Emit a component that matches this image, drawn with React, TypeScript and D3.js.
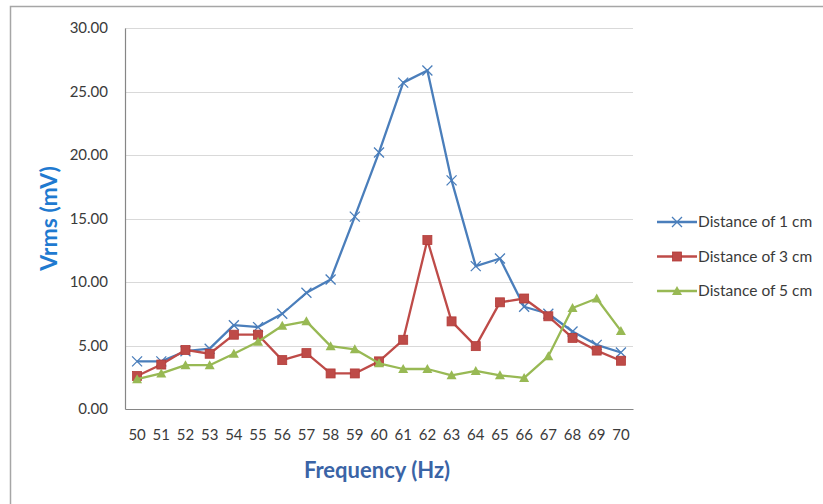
import { useRef, useEffect } from 'react';
import * as d3 from 'd3';

const frequencies = [50, 51, 52, 53, 54, 55, 56, 57, 58, 59, 60, 61, 62, 63, 64, 65, 66, 67, 68, 69, 70];
const dist1cm = [3.75, 3.75, 4.55, 4.75, 6.6, 6.45, 7.5, 9.15, 10.2, 15.15, 20.2, 25.7, 26.65, 18.0, 11.25, 11.85, 8.05, 7.5, 6.1, 5.05, 4.45];
const dist3cm = [2.6, 3.5, 4.65, 4.35, 5.85, 5.85, 3.85, 4.4, 2.8, 2.8, 3.75, 5.45, 13.3, 6.9, 4.95, 8.4, 8.7, 7.3, 5.6, 4.6, 3.8];
const dist5cm = [2.35, 2.8, 3.45, 3.45, 4.35, 5.3, 6.55, 6.9, 4.95, 4.7, 3.6, 3.15, 3.15, 2.65, 3.0, 2.65, 2.45, 4.15, 7.95, 8.7, 6.15];
const yTicks = [0, 5, 10, 15, 20, 25, 30];

const series = [
  { name: 'Distance of 1 cm', values: dist1cm, color: '#4a7ebb', marker: 'x' },
  { name: 'Distance of 3 cm', values: dist3cm, color: '#be4b48', marker: 'square' },
  { name: 'Distance of 5 cm', values: dist5cm, color: '#98b954', marker: 'triangle' },
];

const FONT = 'Lato, "Open Sans", sans-serif';

export default function App() {
  const svgRef = useRef<SVGSVGElement>(null);

  useEffect(() => {
    if (!svgRef.current) return;
    const svg = d3.select(svgRef.current);
    svg.selectAll('*').remove();

    const width = 823;
    const height = 504;
    const margin = { top: 28, right: 190, bottom: 95, left: 125 };

    // chart frame
    svg.append('rect').attr('width', width).attr('height', height).attr('fill', '#fff');
    svg.append('rect')
      .attr('x', 10.5).attr('y', 6.5)
      .attr('width', 830).attr('height', 520)
      .attr('fill', 'none').attr('stroke', '#a6a6a6').attr('stroke-width', 1.5);

    const x = d3.scaleBand<number>()
      .domain(frequencies)
      .range([margin.left, width - margin.right]);
    const y = d3.scaleLinear().domain([0, 30]).range([height - margin.bottom, margin.top]);
    const cx = (f: number) => (x(f) ?? 0) + x.bandwidth() / 2;

    // gridlines
    svg.append('g')
      .selectAll('line')
      .data(yTicks.filter(t => t > 0))
      .join('line')
      .attr('x1', margin.left).attr('x2', width - margin.right)
      .attr('y1', d => Math.round(y(d)) + 0.5).attr('y2', d => Math.round(y(d)) + 0.5)
      .attr('stroke', '#d9d9d9').attr('stroke-width', 1.2);

    // y axis
    const yAxis = svg.append('g')
      .attr('transform', `translate(${margin.left},0)`)
      .call(d3.axisLeft(y).tickValues(yTicks).tickSize(0).tickPadding(17).tickFormat(d => (d as number).toFixed(2)));
    yAxis.select('.domain').attr('stroke', '#868686').attr('stroke-width', 1.2);
    yAxis.selectAll('text').attr('font-family', FONT).attr('font-size', 15).attr('fill', '#3a3a3a');

    // x axis
    const xAxis = svg.append('g')
      .attr('transform', `translate(0,${height - margin.bottom})`)
      .call(d3.axisBottom(x).tickSize(0).tickPadding(20));
    xAxis.select('.domain').attr('stroke', '#868686').attr('stroke-width', 1.2);
    xAxis.selectAll('text').attr('font-family', FONT).attr('font-size', 15).attr('fill', '#3a3a3a');

    // axis titles
    svg.append('text')
      .attr('transform', `translate(57,${(margin.top + height - margin.bottom) / 2}) rotate(-90)`)
      .attr('text-anchor', 'middle')
      .attr('font-family', FONT).attr('font-size', 23).attr('font-weight', 'bold')
      .attr('fill', '#1f7ad0')
      .text('Vrms (mV)');
    svg.append('text')
      .attr('x', 377).attr('y', 478)
      .attr('text-anchor', 'middle')
      .attr('font-family', FONT).attr('font-size', 22).attr('font-weight', 'bold')
      .attr('fill', '#3a64a6')
      .text('Frequency (Hz)');

    const drawMarker = (g: d3.Selection<SVGGElement, unknown, null, undefined>, kind: string, px: number, py: number, color: string) => {
      if (kind === 'x') {
        g.append('path')
          .attr('d', `M${px - 5},${py - 5}L${px + 5},${py + 5}M${px - 5},${py + 5}L${px + 5},${py - 5}`)
          .attr('stroke', color).attr('stroke-width', 1.3).attr('fill', 'none');
      } else if (kind === 'square') {
        g.append('rect')
          .attr('x', px - 4.5).attr('y', py - 4.5).attr('width', 9).attr('height', 9)
          .attr('fill', color).attr('stroke', '#b23b38').attr('stroke-width', 0.8);
      } else {
        g.append('path')
          .attr('d', `M${px},${py - 5}L${px + 5},${py + 4}L${px - 5},${py + 4}Z`)
          .attr('fill', color);
      }
    };

    // series
    series.forEach(s => {
      const line = d3.line<number>()
        .x((_, i) => cx(frequencies[i]))
        .y(d => y(d));
      svg.append('path')
        .datum(s.values)
        .attr('d', line)
        .attr('fill', 'none')
        .attr('stroke', s.color)
        .attr('stroke-width', 2.3)
        .attr('stroke-linejoin', 'round');
      const mg = svg.append('g');
      s.values.forEach((v, i) => drawMarker(mg, s.marker, cx(frequencies[i]), y(v), s.color));
    });

    // legend
    const legend = svg.append('g').attr('transform', 'translate(657,222)');
    series.forEach((s, i) => {
      const ly = i * 34.5;
      legend.append('line')
        .attr('x1', 0).attr('x2', 40).attr('y1', ly).attr('y2', ly)
        .attr('stroke', s.color).attr('stroke-width', 2.3);
      const mg = legend.append('g');
      drawMarker(mg, s.marker, 20, ly, s.color);
      legend.append('text')
        .attr('x', 41).attr('y', ly + 5)
        .attr('font-family', FONT).attr('font-size', 15.5).attr('fill', '#3a3a3a')
        .text(s.name);
    });
  }, []);

  return (
    <svg ref={svgRef} width={823} height={504} style={{ position: 'fixed', left: 0, top: 0 }} />
  );
}
